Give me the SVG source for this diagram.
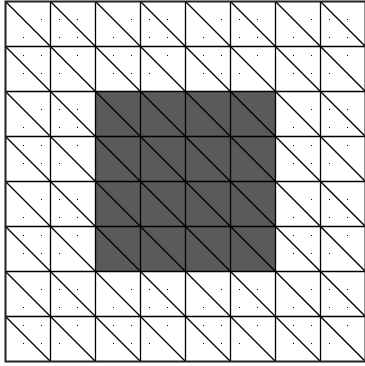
<svg xmlns="http://www.w3.org/2000/svg" width="365" height="366" viewBox="0 0 365 366">
<style>
.dots{stroke:#000;stroke-width:1;stroke-dasharray:1 17;fill:none}
.grid{stroke:#000;stroke-width:1.3;fill:none}
.diag{stroke:#000;stroke-width:1.3;fill:none}
.frame{stroke:#222;stroke-width:2;fill:none}
.shade{fill:#5a5a5a}
</style>
<rect x="0" y="0" width="365" height="366" fill="#fff"/>
<g id="dots" class="dots">
<path d="M5 1.5H366M5 19.5H366M5 37.5H366M5 55.5H366M5 73.5H366M5 91.5H366M5 109.5H366M5 127.5H366M5 145.5H366M5 163.5H366M5 181.5H366M5 199.5H366M5 217.5H366M5 235.5H366M5 253.5H366M5 271.5H366M5 289.5H366M5 307.5H366M5 325.5H366M5 343.5H366M5 361.5H366"/>
</g>
<g id="region">
<rect class="shade" x="95.5" y="91.5" width="180" height="180"/>
</g>
<g id="mesh">
<path class="grid" d="M50.5 1.5V361.5M95.5 1.5V361.5M140.5 1.5V361.5M185.5 1.5V361.5M230.5 1.5V361.5M275.5 1.5V361.5M320.5 1.5V361.5M5.5 46.5H365.5M5.5 91.5H365.5M5.5 136.5H365.5M5.5 181.5H365.5M5.5 226.5H365.5M5.5 271.5H365.5M5.5 316.5H365.5"/>
<path class="diag" d="M5.5 1.5L365.5 361.5M50.5 1.5L365.5 316.5M95.5 1.5L365.5 271.5M140.5 1.5L365.5 226.5M185.5 1.5L365.5 181.5M230.5 1.5L365.5 136.5M275.5 1.5L365.5 91.5M320.5 1.5L365.5 46.5M5.5 46.5L320.5 361.5M5.5 91.5L275.5 361.5M5.5 136.5L230.5 361.5M5.5 181.5L185.5 361.5M5.5 226.5L140.5 361.5M5.5 271.5L95.5 361.5M5.5 316.5L50.5 361.5"/>
<rect class="frame" x="5.5" y="1.5" width="360" height="360"/>
</g>
</svg>
